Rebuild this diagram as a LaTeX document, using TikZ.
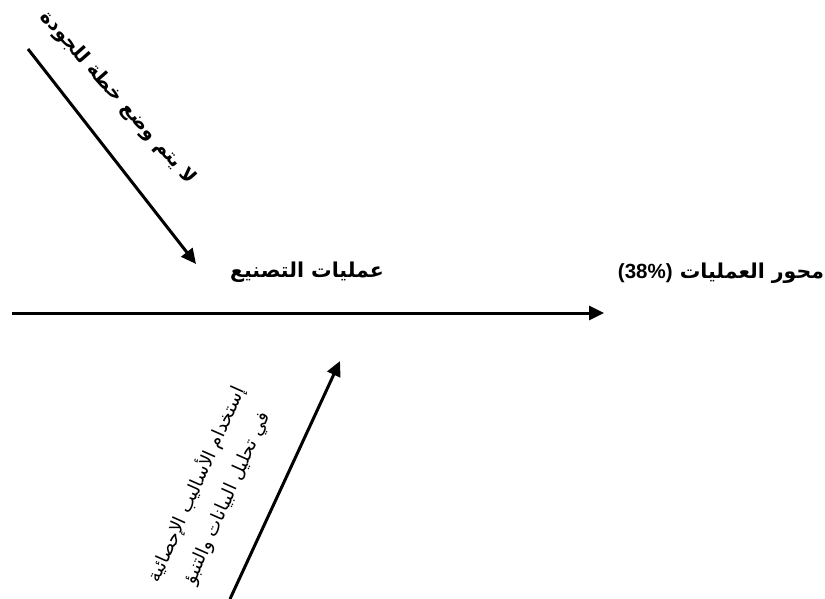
\documentclass[tikz,border=0pt]{standalone}
\usepackage{fontspec}
\usetikzlibrary{arrows.meta}
\TeXXeTstate=1
\newfontfamily\arabicfont[Script=Arabic]{DejaVu Sans}
\newfontfamily\latinbold{Liberation Sans}
\tikzset{
  bone/.style={line width=3pt,-{Triangle[length=15pt,width=14pt]}},
  arlabel/.style={font=\arabicfont\bfseries\fontsize{20.5}{24}\selectfont,inner sep=0pt},
  arrot/.style={font=\arabicfont\bfseries\fontsize{19.5}{24}\selectfont,inner sep=0pt},
  arsmall/.style={font=\arabicfont\fontsize{18.5}{33}\selectfont,inner sep=0pt,align=center}
}
\begin{document}
\begin{tikzpicture}[x=1pt,y=-1pt]
\useasboundingbox (0,0) rectangle (825,599);
% end points
\coordinate (mainS) at (12,313);
\coordinate (mainE) at (604,313);
\coordinate (topS) at (28,49);
\coordinate (topE) at (196,264);
\coordinate (botS) at (230,599);
\coordinate (botE) at (340,361);
% arrows
\draw[bone] (mainS) -- (mainE);
\draw[bone] (topS) -- (topE);
\draw[bone] (botS) -- (botE);
% labels
\node[arlabel] (effect) at (721,273) {\beginR محور العمليات \beginL{\latinbold\bfseries (38\%)}\endL\endR};
\node[arlabel] (cat) at (307,272) {\beginR عمليات التصنيع\endR};
\node[arrot,rotate=-48.5] (cause1) at (118,98) {\beginR لا يتم وضع خطة للجودة\endR};
\node[arsmall,rotate=66] (cause2) at (211,491) {\beginR إستخدام الأساليب الإحصائية\endR\\\beginR في تحليل البيانات والتنبؤ\endR};
\end{tikzpicture}
\end{document}
